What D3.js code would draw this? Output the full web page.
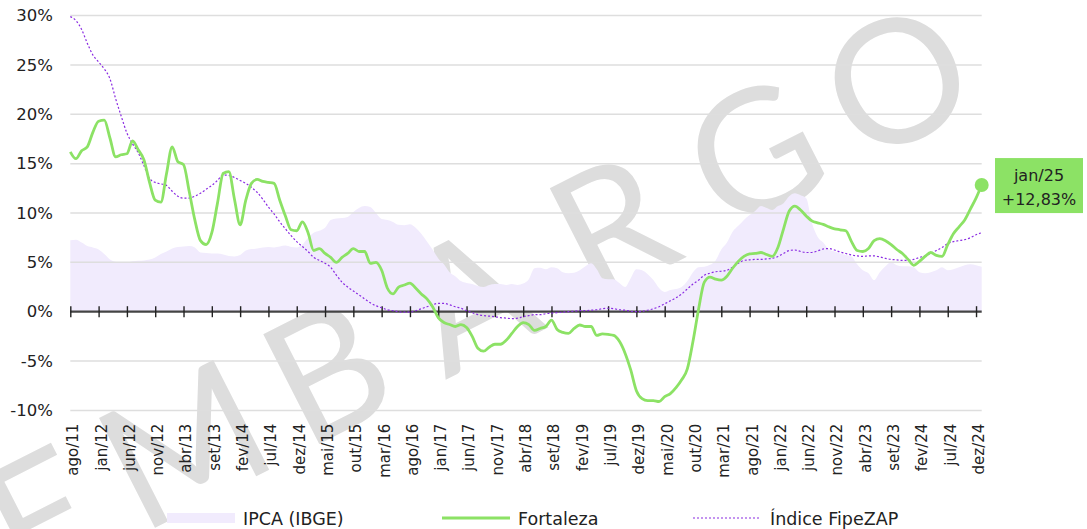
<!DOCTYPE html>
<html><head><meta charset="utf-8">
<script src="https://cdn.jsdelivr.net/npm/d3@7"></script>
<style>
html,body{margin:0;padding:0;background:#fff;}
svg{display:block;font-family:"DejaVu Sans",sans-serif;}
</style></head>
<body>
<svg id="chart" width="1087" height="529"></svg>
<script>
// Monthly series, ago/11 .. jan/25 (162 months), 12-month variation in %
const fortaleza = [16.2,15.5,16.3,16.7,18.2,19.3,19.4,17.6,15.7,15.9,16.0,17.3,16.4,15.4,13.1,11.3,11.1,14.0,16.7,15.2,
14.9,12.2,9.3,7.2,6.8,8.0,11.0,14.0,14.2,11.4,8.8,11.3,13.0,13.4,13.2,13.1,13.0,11.3,9.7,8.3,
8.2,9.1,8.0,6.2,6.4,5.9,5.5,5.0,5.5,5.9,6.4,6.1,6.1,4.9,5.0,4.2,2.4,1.8,2.5,2.7,
2.9,2.4,1.8,1.3,0.5,-0.6,-1.1,-1.3,-1.5,-1.3,-1.6,-2.5,-3.7,-4.0,-3.6,-3.3,-3.3,-2.9,-2.2,-1.5,
-1.1,-1.3,-1.9,-1.7,-1.5,-0.85,-1.8,-2.1,-2.2,-1.7,-1.35,-1.5,-1.5,-2.4,-2.25,-2.3,-2.4,-3.0,-4.2,-5.9,
-8.0,-8.8,-9.0,-9.0,-9.1,-8.6,-8.3,-7.7,-6.9,-5.8,-3.0,0.3,3.0,3.5,3.3,3.2,3.6,4.4,5.1,5.6,
5.85,5.9,6.0,5.8,5.6,6.5,8.4,10.2,10.7,10.3,9.7,9.2,9.0,8.85,8.6,8.4,8.3,8.2,7.1,6.2,
6.1,6.4,7.2,7.4,7.2,6.8,6.3,5.9,5.3,4.7,5.1,5.6,6.0,5.7,5.6,6.8,7.9,8.6,9.3,10.4,
11.5,12.83];
const fipezap = [29.9,29.5,28.6,27.2,26.0,25.3,24.6,23.6,21.6,19.8,18.1,17.0,16.1,14.8,13.5,13.1,12.95,12.8,12.2,11.7,
11.5,11.5,11.7,12.0,12.4,12.8,13.3,13.85,13.8,13.6,13.3,13.0,12.6,12.1,11.4,10.6,9.9,9.1,8.4,7.7,
7.1,6.6,6.1,5.5,5.2,4.9,4.5,3.7,3.0,2.5,2.1,1.7,1.3,0.9,0.6,0.4,0.2,0.1,0.0,-0.05,
-0.05,0.1,0.3,0.5,0.7,0.85,0.85,0.7,0.5,0.35,0.1,-0.1,-0.3,-0.4,-0.45,-0.5,-0.6,-0.65,-0.7,-0.65,
-0.5,-0.4,-0.3,-0.3,-0.2,-0.15,-0.1,-0.05,0.0,0.05,0.1,0.1,0.15,0.2,0.3,0.35,0.3,0.2,0.15,0.05,
0.0,0.05,0.15,0.3,0.5,0.8,1.1,1.4,1.8,2.3,2.8,3.2,3.7,3.9,4.05,4.1,4.2,4.5,4.9,5.2,
5.25,5.3,5.3,5.35,5.4,5.6,5.9,6.2,6.25,6.1,6.0,6.0,6.15,6.35,6.4,6.25,6.05,5.9,5.75,5.65,
5.6,5.65,5.65,5.55,5.4,5.3,5.25,5.2,5.2,5.3,5.5,5.65,5.9,6.2,6.5,6.9,7.1,7.2,7.3,7.5,
7.8,8.0];
const ipca = [7.25,7.3,7.0,6.65,6.5,6.3,5.85,5.3,5.05,4.95,4.95,5.1,5.15,5.2,5.3,5.5,5.85,6.1,6.4,6.55,
6.6,6.65,6.5,6.0,5.95,5.9,5.9,5.8,5.65,5.6,5.75,6.2,6.35,6.4,6.5,6.55,6.5,6.6,6.7,6.55,
6.5,6.8,7.5,8.0,8.2,8.5,9.3,9.45,9.5,9.6,10.1,10.5,10.7,10.6,10.0,9.4,9.3,9.1,8.8,8.75,
8.85,8.5,7.9,7.1,6.3,5.4,4.8,4.0,3.6,3.1,2.9,2.8,2.6,2.5,2.7,2.8,2.8,2.7,2.8,2.7,
2.85,3.3,4.4,4.45,4.3,4.5,4.4,4.0,3.9,3.95,4.2,4.6,4.9,4.3,3.4,3.3,3.3,2.9,2.5,3.4,
4.3,4.2,3.8,3.2,2.4,2.0,2.2,2.3,2.5,3.1,4.0,4.5,4.55,4.75,5.2,6.3,7.0,8.1,8.7,9.3,
9.8,10.2,10.7,10.5,10.3,10.7,11.0,11.7,12.0,11.8,11.5,9.0,7.6,7.0,6.3,6.1,5.9,5.75,5.6,4.8,
4.2,3.9,3.2,4.0,4.6,5.0,4.7,4.6,4.6,4.5,4.0,3.9,4.0,4.2,4.5,4.2,4.3,4.5,4.7,4.8,
4.7,4.55];
const tickLabels = ["ago/11","jan/12","jun/12","nov/12","abr/13","set/13","fev/14","jul/14","dez/14","mai/15",
"out/15","mar/16","ago/16","jan/17","jun/17","nov/17","abr/18","set/18","fev/19","jul/19",
"dez/19","mai/20","out/20","mar/21","ago/21","jan/22","jun/22","nov/22","abr/23","set/23",
"fev/24","jul/24","dez/24"];
const yTicks = [-10,-5,0,5,10,15,20,25,30];
const seriesNames = ["IPCA (IBGE)","Fortaleza","Índice FipeZAP"];
const lastLabel = "jan/25";
const lastValueText = "+12,83%";
const watermark = ["E","M","B","A","R","G","O"];

const svg = d3.select("#chart");
const n = fortaleza.length;
const x = d3.scaleLinear().domain([0, n-1]).range([70.3, 981.7]);
const y = d3.scaleLinear().domain([-10, 30]).range([410.4, 15.6]);

const GREEN = "#8ce265", PURPLE = "#8a2be2", LAV = "#f1ebfd";

// watermark
const wm = svg.append("g").attr("transform","translate(470,300) rotate(-27)");
watermark.forEach((ch,i)=>{
  wm.append("text").attr("x",(i-3)*160).attr("y",60)
    .attr("text-anchor","middle").attr("font-family","Lato, 'Open Sans', sans-serif")
    .attr("font-weight",400).attr("font-size",172).attr("fill","#dddddd").text(ch);
});

// IPCA area
svg.append("path").datum(ipca)
  .attr("d", d3.area().x((d,i)=>x(i)).y0(y(0)).y1(d=>y(d)).curve(d3.curveMonotoneX))
  .attr("fill", LAV);

// gridlines
svg.append("g").selectAll("line").data(yTicks.filter(d=>d!==0)).join("line")
  .attr("x1", x(0)).attr("x2", x(n-1)).attr("y1", d=>y(d)).attr("y2", d=>y(d))
  .attr("stroke","#dedede").attr("stroke-width",1.5);

// y axis labels
const yAxis = svg.append("g").attr("transform","translate(70,0)")
  .call(d3.axisLeft(y).tickValues(yTicks).tickFormat(d=>d+"%").tickSize(0).tickPadding(17));
yAxis.select(".domain").remove();
yAxis.selectAll("text").attr("font-size",16.5).attr("fill","#222").attr("font-family","'DejaVu Sans',sans-serif");

// x axis
const tickIdx = tickLabels.map((d,i)=>i*5);
const xAxis = svg.append("g").attr("transform",`translate(0,${y(0)})`)
  .call(d3.axisBottom(x).tickValues(tickIdx).tickFormat((d,i)=>tickLabels[i]).tickSizeOuter(0).tickSizeInner(0));
xAxis.select(".domain").attr("d",`M${x(0)},0H${x(n-1)}`).attr("stroke","#444").attr("stroke-width",2.2);
xAxis.selectAll(".tick line").attr("y1",-5.5).attr("y2",5.5).attr("stroke","#222").attr("stroke-width",1.4);
xAxis.selectAll(".tick text")
  .attr("transform","translate(2,112) rotate(-90)")
  .attr("x",0).attr("y",0).attr("dy","0.36em")
  .attr("text-anchor","end").attr("font-size",15).attr("fill","#222")
  .attr("font-family","'DejaVu Sans',sans-serif");

// FipeZAP dotted
svg.append("path").datum(fipezap)
  .attr("d", d3.line().x((d,i)=>x(i)).y(d=>y(d)).curve(d3.curveMonotoneX))
  .attr("fill","none").attr("stroke",PURPLE).attr("stroke-width",1.2).attr("stroke-dasharray","2,2");

// Fortaleza
svg.append("path").datum(fortaleza)
  .attr("d", d3.line().x((d,i)=>x(i)).y(d=>y(d)).curve(d3.curveMonotoneX))
  .attr("fill","none").attr("stroke",GREEN).attr("stroke-width",2.8).attr("stroke-linejoin","round");

// last point + label
const lx = x(n-1), ly = y(fortaleza[n-1]);
svg.append("circle").attr("cx",lx).attr("cy",ly).attr("r",7).attr("fill",GREEN);
const box = svg.append("g");
box.append("rect").attr("x",995).attr("y",ly-27).attr("width",88).attr("height",55).attr("fill",GREEN);
box.append("text").attr("x",1039).attr("y",ly-4).attr("text-anchor","middle").attr("font-size",16).attr("fill","#222").text(lastLabel);
box.append("text").attr("x",1039).attr("y",ly+20).attr("text-anchor","middle").attr("font-size",16).attr("fill","#222").text(lastValueText);

// legend
const lg = svg.append("g");
lg.append("rect").attr("x",167).attr("y",513).attr("width",68).attr("height",10).attr("fill",LAV);
lg.append("text").attr("x",243).attr("y",525).attr("font-size",17.5).attr("fill","#222").text(seriesNames[0]);
lg.append("line").attr("x1",442).attr("x2",510).attr("y1",518).attr("y2",518).attr("stroke",GREEN).attr("stroke-width",2.8);
lg.append("text").attr("x",518).attr("y",525).attr("font-size",17.5).attr("fill","#222").text(seriesNames[1]);
lg.append("line").attr("x1",693).attr("x2",759).attr("y1",518).attr("y2",518).attr("stroke",PURPLE).attr("stroke-width",1.2).attr("stroke-dasharray","2,2");
lg.append("text").attr("x",770).attr("y",525).attr("font-size",17.5).attr("fill","#222").text(seriesNames[2]);
</script>
</body></html>
